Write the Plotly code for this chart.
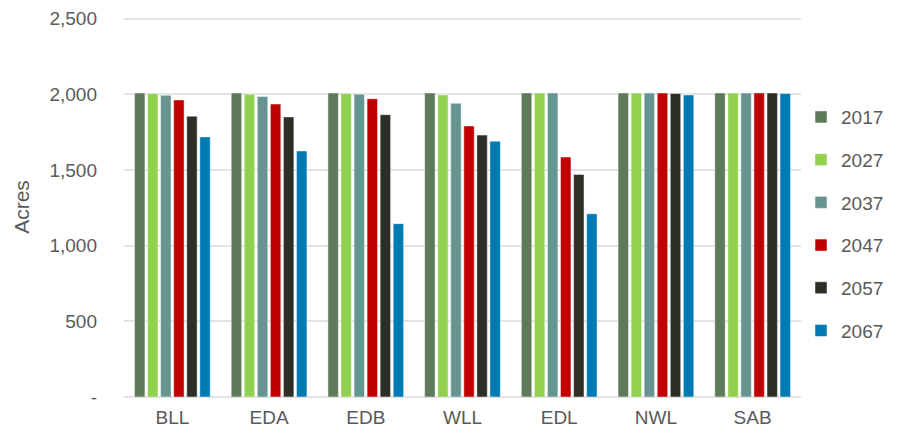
import plotly.graph_objects as go

categories = ["BLL", "EDA", "EDB", "WLL", "EDL", "NWL", "SAB"]
years = ["2017", "2027", "2037", "2047", "2057", "2067"]
values = {
    "2017": [2008, 2008, 2008, 2008, 2008, 2008, 2008],
    "2027": [2005, 2000, 2005, 1995, 2008, 2008, 2008],
    "2037": [1993, 1985, 2000, 1940, 2008, 2008, 2008],
    "2047": [1962, 1935, 1970, 1790, 1585, 2008, 2008],
    "2057": [1855, 1850, 1865, 1730, 1470, 2005, 2008],
    "2067": [1718, 1625, 1145, 1690, 1210, 1995, 2005],
}
colors = ["#5F7A5A", "#92D050", "#669591", "#C00000", "#2D2F27", "#007AB3"]
ytickvals = [0, 500, 1000, 1500, 2000, 2500]
yticktext = ["-", "500", "1,000", "1,500", "2,000", "2,500"]

fig = go.Figure()
for i, y in enumerate(years):
    fig.add_trace(go.Bar(
        x=categories, y=values[y], name=y,
        marker=dict(color=colors[i], line=dict(color="rgba(255,255,255,0.6)", width=0.8)),
        legendgroup=y,
    ))

fig.update_layout(
    width=889, height=422,
    margin=dict(l=116, r=96, t=9, b=33, autoexpand=False),
    paper_bgcolor="white", plot_bgcolor="white",
    barmode="group", bargap=0.19, bargroupgap=0.2,
    font=dict(family="Liberation Sans, Arial, sans-serif", color="#595959", size=19),
    xaxis=dict(showgrid=False, showline=False, ticks="", tickfont=dict(size=19),
               ticklabelstandoff=7, automargin=False),
    yaxis=dict(range=[0, 2510], tickvals=ytickvals, ticktext=yticktext,
               showgrid=True, gridcolor="#E3E3E3", gridwidth=1.5, zeroline=True,
               zerolinecolor="#E3E3E3", zerolinewidth=1.5,
               ticks="", ticklabelstandoff=26, ticklabeloverflow="allow",
               automargin=False,
               title=dict(text="Acres", font=dict(size=21), standoff=14)),
    legend=dict(x=1.0, y=0.455, xanchor="left", yanchor="middle",
                font=dict(size=19), tracegroupgap=15, traceorder="grouped",
                itemwidth=30),
    showlegend=True,
)
fig.write_html("out.html")
